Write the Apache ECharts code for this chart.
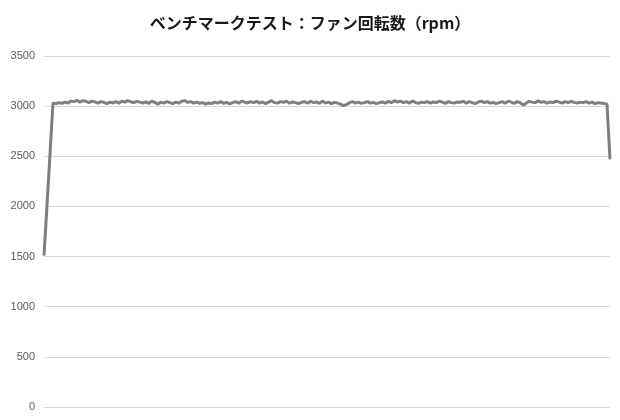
<!DOCTYPE html>
<html>
<head>
<meta charset="utf-8">
<script src="https://cdn.jsdelivr.net/npm/echarts@6/dist/echarts.min.js"></script>
<style>
  html, body { margin: 0; padding: 0; background: #fff; }
  #main { width: 620px; height: 420px; }
</style>
</head>
<body>
<div id="main"></div>
<script>
// fan speed samples (rpm)
var rpm = [
  1510, 2010, 2520, 3030, 3025, 3035, 3028, 3040, 3032, 3050,
  3045, 3058, 3040, 3055, 3048, 3035, 3050, 3042, 3030, 3045,
  3038, 3025, 3040, 3032, 3045, 3030, 3050, 3040, 3055, 3042,
  3035, 3048, 3040, 3030, 3042, 3028, 3050, 3038, 3020, 3040,
  3030, 3045, 3035, 3025, 3040, 3030, 3048, 3055, 3038, 3045,
  3030, 3040, 3028, 3035, 3020, 3032, 3025, 3040, 3030, 3045,
  3028, 3038, 3022, 3035, 3045, 3030, 3050, 3040, 3032, 3045,
  3035, 3048, 3030, 3042, 3025, 3040, 3055, 3035, 3030, 3045,
  3038, 3050, 3030, 3042, 3035, 3025, 3038, 3045, 3030, 3048,
  3035, 3042, 3028, 3050, 3032, 3040, 3025, 3038, 3030, 3020,
  3005, 3015, 3035, 3045, 3030, 3040, 3028, 3035, 3045, 3030,
  3038, 3025, 3035, 3042, 3030, 3048, 3035, 3055, 3040, 3050,
  3035, 3045, 3030, 3052, 3038, 3028, 3040, 3035, 3045, 3030,
  3042, 3035, 3050, 3040, 3028, 3045, 3035, 3030, 3042, 3038,
  3048, 3030, 3045, 3035, 3025, 3040, 3050, 3035, 3045, 3030,
  3038, 3025, 3035, 3045, 3030, 3050, 3040, 3028, 3045, 3035,
  3010, 3030, 3048, 3040, 3035, 3052, 3038, 3045, 3030, 3042,
  3035, 3050, 3040, 3030, 3045, 3035, 3048, 3038, 3030, 3040,
  3035, 3045, 3030, 3040, 3025, 3035, 3030, 3028, 3020, 2470
];
var samples = rpm.map(function (v, i) { return i + 1; });

var chart = echarts.init(document.getElementById("main"));

var option = {
  animation: false,
  title: {
    text: "ベンチマークテスト：ファン回転数（rpm）",
    left: "center",
    top: 10,
    textStyle: {
      fontFamily: "Noto Sans CJK JP",
      fontSize: 16,
      fontWeight: "bold",
      color: "#1a1a1a"
    }
  },
  grid: { left: 44, right: 10, top: 56, bottom: 13 },
  xAxis: {
    type: "category",
    data: samples,
    boundaryGap: false,
    axisLine: { show: false },
    axisTick: { show: false },
    axisLabel: { show: false }
  },
  yAxis: {
    type: "value",
    min: 0,
    max: 3500,
    interval: 500,
    axisLine: { show: false },
    axisTick: { show: false },
    axisLabel: {
      margin: 9,
      fontFamily: "Liberation Sans",
      fontSize: 11,
      color: "#595959",
      formatter: function (v) { return String(v); }
    },
    splitLine: { lineStyle: { color: "#d9d9d9", width: 1 } }
  },
  series: [
    {
      type: "line",
      data: rpm,
      showSymbol: false,
      lineStyle: { color: "#7f7f7f", width: 3 }
    }
  ]
};

chart.setOption(option);
</script>
</body>
</html>
